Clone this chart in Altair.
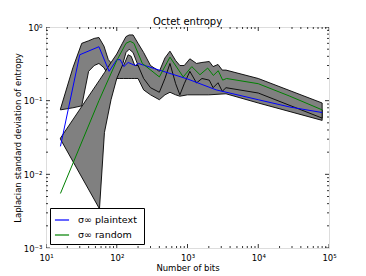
import altair as alt
import pandas as pd
import numpy as np

# ---- data ----
blue_x = [16, 30, 56, 78, 100, 112, 126, 145, 182, 202, 400, 1000, 2550, 10000, 28000, 80000]
blue_y = [0.024, 0.42, 0.54, 0.25, 0.36, 0.36, 0.29, 0.33, 0.30, 0.32, 0.26, 0.197, 0.14, 0.103, 0.082, 0.069]

green_x = [16, 56, 100, 135, 155, 175, 230, 400, 565, 870, 1150, 1500, 1930, 2320, 2720, 3140, 3560, 10000, 28000, 80000]
green_y = [0.0055, 0.1, 0.35, 0.6, 0.64, 0.6, 0.32, 0.21, 0.39, 0.21, 0.29, 0.225, 0.277, 0.22, 0.255, 0.19, 0.2, 0.17, 0.115, 0.075]

p_x = [16, 24, 32, 40, 48, 56, 66, 76, 90, 110, 125, 145, 160, 180, 200, 240, 300, 400, 480, 565, 680, 780, 1000, 1500, 2000, 3500, 10000, 80000]
p_hi = [0.077, 0.28, 0.6, 0.65, 0.7, 0.72, 0.55, 0.36, 0.3, 0.3, 0.3, 0.42, 0.4, 0.3, 0.3, 0.3, 0.25, 0.21, 0.3, 0.39, 0.3, 0.25, 0.25, 0.23, 0.25, 0.2, 0.17, 0.075]
p_lo = [0.075, 0.08, 0.085, 0.25, 0.3, 0.32, 0.28, 0.22, 0.2, 0.2, 0.2, 0.2, 0.2, 0.2, 0.2, 0.14, 0.12, 0.103, 0.12, 0.13, 0.12, 0.115, 0.12, 0.12, 0.12, 0.124, 0.093, 0.054]

r_x = [16, 57, 67, 83, 100, 120, 135, 150, 170, 200, 240, 300, 400, 480, 565, 680, 780, 900, 1080, 1340, 1600, 2030, 2300, 2700, 3100, 3500, 10000, 80000]
r_hi = [0.031, 0.19, 0.24, 0.33, 0.43, 0.6, 0.74, 0.78, 0.78, 0.6, 0.45, 0.3, 0.25, 0.38, 0.47, 0.35, 0.3, 0.3, 0.37, 0.32, 0.33, 0.34, 0.29, 0.31, 0.26, 0.26, 0.2, 0.093]
r_lo = [0.03, 0.0034, 0.037, 0.103, 0.2, 0.3, 0.45, 0.5, 0.45, 0.3, 0.2, 0.15, 0.13, 0.2, 0.32, 0.17, 0.12, 0.17, 0.25, 0.174, 0.2, 0.19, 0.15, 0.175, 0.134, 0.15, 0.127, 0.058]

series_names = ["\u03c3\u221e  plaintext", "\u03c3\u221e  random"]
series_colors = ["#0000ff", "#008000"]

x_ticks = [10, 100, 1000, 10000, 100000]
x_tick_labels = ["10\u00b9", "10\u00b2", "10\u00b3", "10\u2074", "10\u2075"]
y_ticks = [0.001, 0.01, 0.1, 1]
y_tick_labels = ["10\u207b\u00b3", "10\u207b\u00b2", "10\u207b\u00b9", "10\u2070"]

W, H = 283, 221
FONT = "DejaVu Sans"

xs = alt.Scale(type="log", domain=[10, 100000])
ys = alt.Scale(type="log", domain=[0.001, 1])


def label_expr(vals, labels):
    e = "''"
    for v, l in zip(vals, labels):
        e = f"(abs(datum.value - {v}) < {v}*1e-6) ? '{l}' : " + e
    return e


xaxis = alt.Axis(values=x_ticks, labelExpr=label_expr(x_ticks, x_tick_labels), ticks=False, domain=False,
                 grid=False, labelFont=FONT, labelFontSize=8.5, labelColor="black", labelPadding=5,
                 labelFlush=False, labelOverlap=False,
                 title="Number of bits", titleFont=FONT, titleFontSize=8.5, titleFontWeight="normal",
                 titleColor="black", titlePadding=2)
yaxis = alt.Axis(values=y_ticks, labelExpr=label_expr(y_ticks, y_tick_labels), ticks=False, domain=False,
                 grid=False, labelFont=FONT, labelFontSize=8.5, labelColor="black", labelPadding=4,
                 labelFlush=False, labelOverlap=False,
                 title="Laplacian standard deviation of entropy", titleFont=FONT, titleFontSize=8.5,
                 titleFontWeight="normal", titleColor="black", titlePadding=1)

p_df = pd.DataFrame({"x": p_x, "lo": p_lo, "hi": p_hi})
r_df = pd.DataFrame({"x": r_x, "lo": r_lo, "hi": r_hi})

band_p = alt.Chart(p_df).mark_area(color="#808080", stroke="black", strokeWidth=0.9, clip=True, opacity=1).encode(
    x=alt.X("x:Q", scale=xs, axis=xaxis), y=alt.Y("lo:Q", scale=ys, axis=yaxis), y2="hi:Q")
band_r = alt.Chart(r_df).mark_area(color="#808080", stroke="black", strokeWidth=0.9, clip=True, opacity=1).encode(
    x=alt.X("x:Q", scale=xs), y=alt.Y("lo:Q", scale=ys), y2="hi:Q")

lines_df = pd.concat([
    pd.DataFrame({"x": blue_x, "y": blue_y, "s": series_names[0], "i": range(len(blue_x))}),
    pd.DataFrame({"x": green_x, "y": green_y, "s": series_names[1], "i": range(len(green_x))}),
])
lines = alt.Chart(lines_df).mark_line(strokeWidth=1, clip=True).encode(
    x=alt.X("x:Q", scale=xs), y=alt.Y("y:Q", scale=ys), order="i:Q",
    color=alt.Color("s:N", scale=alt.Scale(domain=series_names, range=series_colors),
                    legend=alt.Legend(title=None, orient="none", legendX=4, legendY=181,
                                      strokeColor="black", fillColor="white", padding=4,
                                      symbolType="stroke", symbolSize=200, symbolStrokeWidth=1.2,
                                      labelFont=FONT, labelFontSize=9.5, labelColor="black",
                                      rowPadding=2, cornerRadius=0, offset=0, labelOffset=8)))

# tick marks (inward, on all four sides)
xminor = [m * 10 ** d for d in range(1, 5) for m in range(2, 10)]
yminor = [m * 10.0 ** d for d in range(-3, 0) for m in range(2, 10)]
tk = []
for vals, ln in ((x_ticks, 4), (xminor, 2)):
    df = pd.DataFrame({"v": vals})
    tk.append(alt.Chart(df).mark_rule(color="black", strokeWidth=0.8, clip=True).encode(
        x=alt.X("v:Q", scale=xs), y=alt.value(H), y2=alt.value(H - ln)))
    tk.append(alt.Chart(df).mark_rule(color="black", strokeWidth=0.8, clip=True).encode(
        x=alt.X("v:Q", scale=xs), y=alt.value(0), y2=alt.value(ln)))
for vals, ln in ((y_ticks, 4), (yminor, 2)):
    df = pd.DataFrame({"v": vals})
    tk.append(alt.Chart(df).mark_rule(color="black", strokeWidth=0.8, clip=True).encode(
        y=alt.Y("v:Q", scale=ys), x=alt.value(0), x2=alt.value(ln)))
    tk.append(alt.Chart(df).mark_rule(color="black", strokeWidth=0.8, clip=True).encode(
        y=alt.Y("v:Q", scale=ys), x=alt.value(W), x2=alt.value(W - ln)))

chart = alt.layer(band_p, band_r, lines, *tk).properties(
    width=W, height=H,
    title=alt.Title("Octet entropy", font=FONT, fontSize=10, fontWeight="normal", color="black", offset=-4),
    autosize=alt.AutoSizeParams(type="none"),
    padding={"left": 38, "top": 19, "right": 20, "bottom": 30},
).configure_view(stroke="black", strokeWidth=1.2).configure(background="white")

chart.save("out.html", embed_options={"renderer": "svg", "actions": False})
